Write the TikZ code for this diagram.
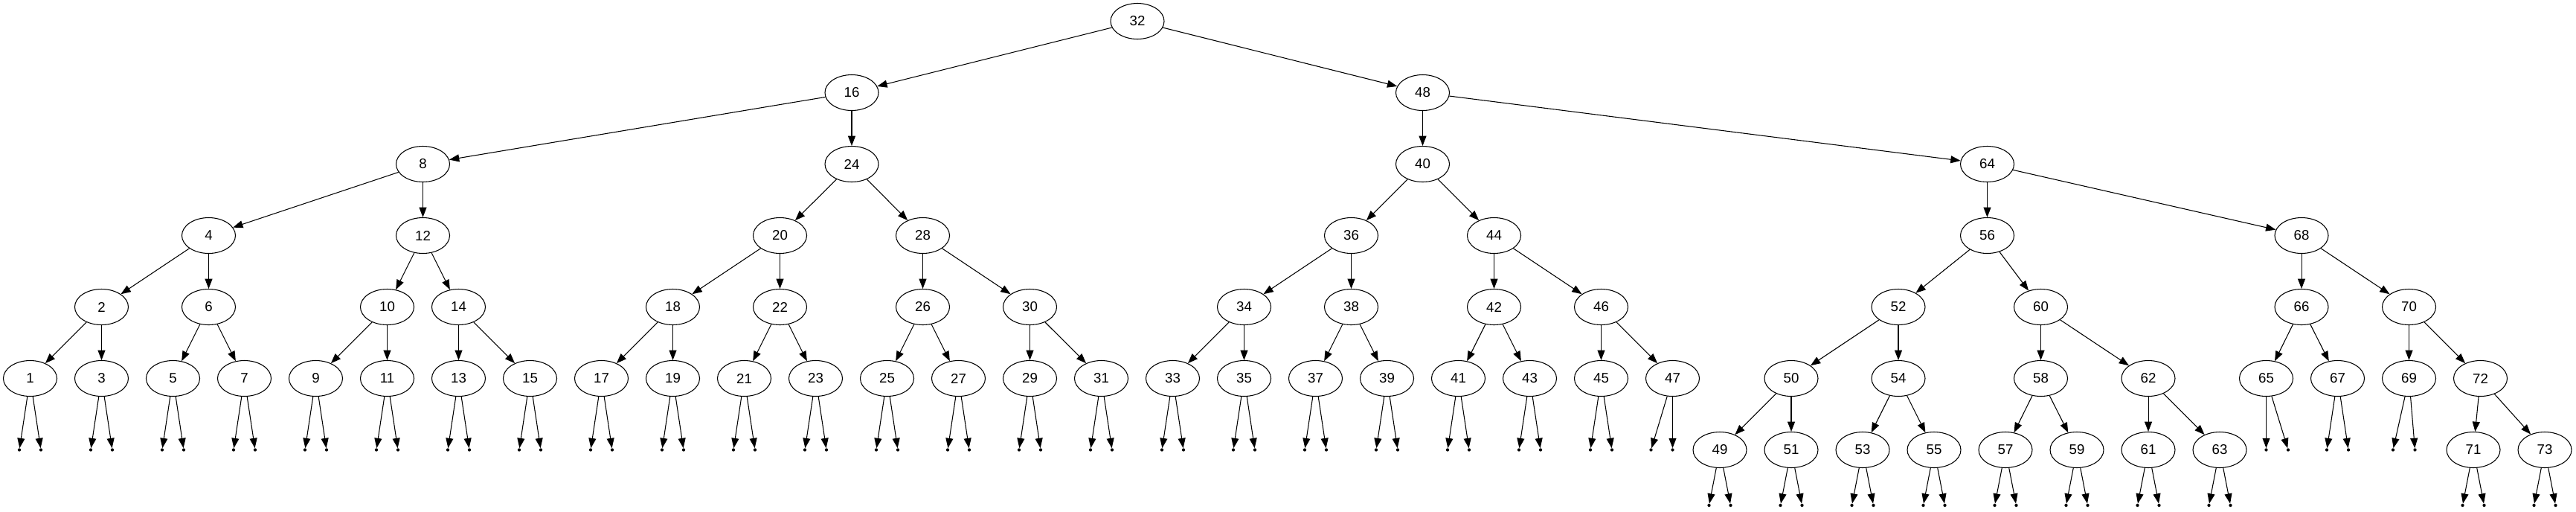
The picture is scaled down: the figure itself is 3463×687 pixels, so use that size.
\documentclass[tikz,border=0pt]{standalone}
\usepackage{fontspec}
\setmainfont{Liberation Sans}
\usetikzlibrary{arrows.meta,shapes.geometric}
\tikzset{
  key/.style={draw,ellipse,line width=0.8pt,minimum width=54pt,minimum height=36pt,inner sep=0pt,font=\fontsize{14}{16}\selectfont},
  nil/.style={circle,fill,inner sep=0pt,minimum size=3.2pt},
  edge/.style={line width=0.8pt,-{Triangle[length=10pt,width=7.5pt]}}
}
%% two empty children under a leaf
\newcommand{\nilpair}[4]{%
  \path (n#1) ++(#2,#4) node[nil] (n#1l) {};
  \path (n#1) ++(#3,#4) node[nil] (n#1r) {};
  \draw[edge] (n#1) -- (n#1l);
  \draw[edge] (n#1) -- (n#1r);
}
\begin{document}
\begin{tikzpicture}[x=0.75pt,y=-0.75pt]
    \useasboundingbox (0,0) rectangle (3463,687);
    %% root
    \node[key] (n32) at (1529,28.5) {32};
    %% depth 1
    \node[key] (n16) at (1145,124.5) {16};
    \node[key] (n48) at (1912.5,124.5) {48};
    %% depth 2
    \node[key] (n8) at (568.5,220.5) {8};
    \node[key] (n24) at (1145,220.5) {24};
    \node[key] (n40) at (1912.5,220.5) {40};
    \node[key] (n64) at (2671.5,220.5) {64};
    %% depth 3
    \node[key] (n4) at (280.5,316.5) {4};
    \node[key] (n12) at (568.5,316.5) {12};
    \node[key] (n20) at (1048.5,316.5) {20};
    \node[key] (n28) at (1240.5,316.5) {28};
    \node[key] (n36) at (1816.5,316.5) {36};
    \node[key] (n44) at (2008.5,316.5) {44};
    \node[key] (n56) at (2671.5,316.5) {56};
    \node[key] (n68) at (3094,316.5) {68};
    %% depth 4
    \node[key] (n2) at (136.5,412.5) {2};
    \node[key] (n6) at (280.5,412.5) {6};
    \node[key] (n10) at (520.5,412.5) {10};
    \node[key] (n14) at (616.5,412.5) {14};
    \node[key] (n18) at (904.5,412.5) {18};
    \node[key] (n22) at (1048.5,412.5) {22};
    \node[key] (n26) at (1240.5,412.5) {26};
    \node[key] (n30) at (1384.5,412.5) {30};
    \node[key] (n34) at (1672.5,412.5) {34};
    \node[key] (n38) at (1816.5,412.5) {38};
    \node[key] (n42) at (2008.5,412.5) {42};
    \node[key] (n46) at (2152.5,412.5) {46};
    \node[key] (n52) at (2552,412.5) {52};
    \node[key] (n60) at (2743.5,412.5) {60};
    \node[key] (n66) at (3094,412.5) {66};
    \node[key] (n70) at (3238.5,412.5) {70};
    %% depth 5
    \foreach \n in {1,3,...,47}{
        \node[key] (n\n) at ({40.5+48*(\n-1)},508.5) {\n};
    }
    \node[key] (n50) at (2408,508.5) {50};
    \node[key] (n54) at (2552,508.5) {54};
    \node[key] (n58) at (2743.5,508.5) {58};
    \node[key] (n62) at (2888,508.5) {62};
    \node[key] (n65) at (3046.5,508.5) {65};
    \node[key] (n67) at (3142.5,508.5) {67};
    \node[key] (n69) at (3238.5,508.5) {69};
    \node[key] (n72) at (3334.5,508.5) {72};
    %% depth 6
    \foreach \n in {49,51,...,63}{
        \node[key] (n\n) at ({2312+48*(\n-49)},604.5) {\n};
    }
    \node[key] (n71) at (3325,604.5) {71};
    \node[key] (n73) at (3421,604.5) {73};
    %% edges
    \foreach \a/\b in {32/16,32/48,16/8,16/24,8/4,8/12,4/2,4/6,2/1,2/3,6/5,6/7,
        12/10,12/14,10/9,10/11,14/13,14/15,24/20,24/28,20/18,20/22,18/17,18/19,
        22/21,22/23,28/26,28/30,26/25,26/27,30/29,30/31,48/40,48/64,40/36,40/44,
        36/34,36/38,34/33,34/35,38/37,38/39,44/42,44/46,42/41,42/43,46/45,46/47,
        64/56,64/68,56/52,56/60,52/50,52/54,50/49,50/51,54/53,54/55,60/58,60/62,
        58/57,58/59,62/61,62/63,68/66,68/70,66/65,66/67,70/69,70/72,72/71,72/73}{
        \draw[edge] (n\a) -- (n\b);
    }
    %% empty children
    \foreach \n in {1,3,...,45}{
        \nilpair{\n}{-14.5}{14.5}{96}
    }
    \foreach \n in {49,51,...,63}{
        \nilpair{\n}{-14.5}{14.5}{74.5}
    }
    \foreach \n/\dl/\dr/\dy in {47/-29/0/96,65/0/29.5/96,67/-14.5/14.5/96,
        69/-21.5/8/96,71/-14.5/14.5/74.5,73/-14.5/14.5/74.5}{
        \nilpair{\n}{\dl}{\dr}{\dy}
    }
\end{tikzpicture}
\end{document}
